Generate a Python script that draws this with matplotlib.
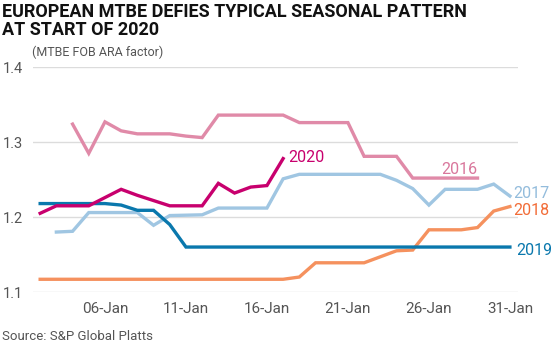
import matplotlib.pyplot as plt

# day-of-January positions and MTBE FOB ARA factor
days_2016 = [4, 5, 6, 7, 8, 10, 11, 12, 13, 17, 18, 21, 22, 24, 25, 29]
vals_2016 = [1.324, 1.285, 1.327, 1.315, 1.311, 1.311, 1.308, 1.306, 1.336, 1.336,
             1.326, 1.326, 1.281, 1.281, 1.252, 1.252]

days_2017 = [3, 4, 5, 8, 9, 10, 12, 13, 16, 17, 18, 23, 24, 25, 26, 27, 29, 30, 31]
vals_2017 = [1.180, 1.181, 1.206, 1.206, 1.189, 1.202, 1.203, 1.212, 1.212, 1.251,
             1.257, 1.257, 1.249, 1.238, 1.216, 1.237, 1.237, 1.244, 1.228]

days_2018 = [2, 17, 18, 19, 22, 23, 24, 25, 26, 28, 29, 30, 31]
vals_2018 = [1.117, 1.117, 1.120, 1.139, 1.139, 1.147, 1.155, 1.156, 1.183, 1.183,
             1.186, 1.208, 1.214]

days_2019 = [2, 6, 7, 8, 9, 10, 11, 31]
vals_2019 = [1.218, 1.218, 1.216, 1.209, 1.209, 1.190, 1.160, 1.160]

days_2020 = [2, 3, 5, 7, 8, 9, 10, 12, 13, 14, 15, 16, 17]
vals_2020 = [1.205, 1.215, 1.215, 1.237, 1.229, 1.222, 1.215, 1.215, 1.245, 1.232,
             1.240, 1.242, 1.278]

tick_days = [6, 11, 16, 21, 26, 31]
tick_labels = ["06-Jan", "11-Jan", "16-Jan", "21-Jan", "26-Jan", "31-Jan"]
y_ticks = [1.1, 1.2, 1.3, 1.4]

series = [
    (days_2016, vals_2016, "#e08aa8", "2016"),
    (days_2017, vals_2017, "#a0c6e2", "2017"),
    (days_2018, vals_2018, "#f5915e", "2018"),
    (days_2019, vals_2019, "#0a78ad", "2019"),
    (days_2020, vals_2020, "#c8006e", "2020"),
]
label_colors = {"2016": "#d9779c", "2017": "#93bcdc", "2018": "#f26c37",
                "2019": "#0a78ad", "2020": "#c8006e"}
# label anchor: (day, value, ha)
label_pos = {"2016": (29, 1.263, "right"), "2017": (31.2, 1.232, "left"),
             "2018": (31.2, 1.209, "left"), "2019": (31.4, 1.155, "left"),
             "2020": (17.3, 1.279, "left")}

plt.rcParams["font.family"] = ["Roboto", "DejaVu Sans"]

fig = plt.figure(figsize=(5.6, 3.46), dpi=100)
ax = fig.add_axes([0.059, 0.156, 0.866, 0.65])

for d, v, c, name in series:
    ax.plot(d, v, color=c, lw=2.4, solid_joinstyle="miter", clip_on=False, zorder=3)
    lx, ly, ha = label_pos[name]
    ax.text(lx, ly, name, color=label_colors[name], fontsize=11.5, ha=ha, va="center")

ax.set_xlim(1.56, 31.5)
ax.set_ylim(1.1, 1.4)
ax.set_yticks(y_ticks)
ax.set_yticklabels([f"{t:.1f}" for t in y_ticks])
ax.set_xticks(tick_days)
ax.set_xticklabels(tick_labels)
ax.grid(axis="y", color="#dcdcdc", lw=1)
ax.set_axisbelow(True)
for s in ax.spines.values():
    s.set_visible(False)
ax.tick_params(length=0, labelsize=10.5, colors="#555555")
ax.tick_params(axis="y", pad=7)
ax.tick_params(axis="x", pad=7)
for lbl in ax.get_xticklabels():
    lbl.set_fontsize(11)

fig.text(0.004, 0.992, "EUROPEAN MTBE DEFIES TYPICAL SEASONAL PATTERN\nAT START OF 2020",
         family=["Liberation Sans Narrow", "Roboto"], fontweight="bold", fontsize=13,
         color="#111111", va="top", ha="left", linespacing=1.05)
fig.text(0.057, 0.85, "(MTBE FOB ARA factor)", fontsize=9, color="#555555", va="center")
fig.text(0.004, 0.028, "Source: S&P Global Platts", fontsize=9.5, color="#555555", va="center")

fig.savefig("out.png", dpi=100)
